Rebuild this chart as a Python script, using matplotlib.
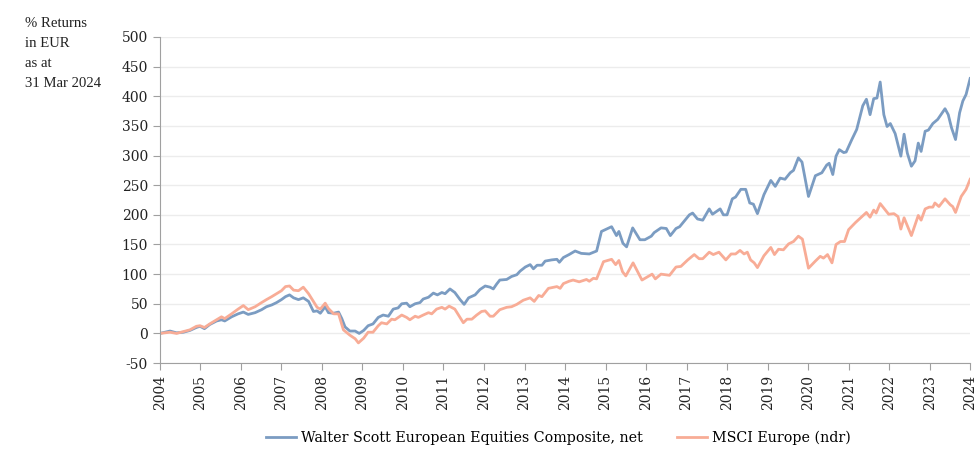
import matplotlib
matplotlib.use("Agg")
import matplotlib.pyplot as plt

plt.rcParams['font.family'] = ['DejaVu Serif']
plt.rcParams['axes.unicode_minus'] = False

# Walter Scott European Equities Composite, net
ws_years = [2004.0, 2004.25, 2004.41, 2004.58, 2004.74, 2004.9, 2004.99, 2005.1, 2005.23, 2005.4,
            2005.52, 2005.6, 2005.77, 2005.93, 2006.06, 2006.18, 2006.35, 2006.51, 2006.63, 2006.76,
            2006.88, 2007.0, 2007.1, 2007.2, 2007.3, 2007.42, 2007.54, 2007.67, 2007.79, 2007.88,
            2007.96, 2008.08, 2008.16, 2008.29, 2008.41, 2008.49, 2008.57, 2008.69, 2008.82, 2008.92,
            2009.03, 2009.14, 2009.26, 2009.39, 2009.51, 2009.64, 2009.76, 2009.88, 2009.97, 2010.09,
            2010.17, 2010.3, 2010.42, 2010.5, 2010.63, 2010.75, 2010.85, 2010.96, 2011.04, 2011.16,
            2011.28, 2011.41, 2011.51, 2011.62, 2011.78, 2011.9, 2012.03, 2012.15, 2012.23, 2012.31,
            2012.39, 2012.56, 2012.68, 2012.81, 2012.89, 2013.02, 2013.14, 2013.22, 2013.31, 2013.43,
            2013.51, 2013.67, 2013.8, 2013.86, 2013.96, 2014.1, 2014.25, 2014.4, 2014.6, 2014.78,
            2014.9, 2015.15, 2015.27, 2015.33, 2015.43, 2015.52, 2015.67, 2015.85, 2015.97, 2016.13,
            2016.2, 2016.37, 2016.5, 2016.6, 2016.74, 2016.83, 2017.07, 2017.15, 2017.27, 2017.4,
            2017.56, 2017.64, 2017.83, 2017.91, 2018.0, 2018.13, 2018.21, 2018.34, 2018.46, 2018.56,
            2018.65, 2018.75, 2018.91, 2019.08, 2019.19, 2019.31, 2019.43, 2019.56, 2019.64, 2019.76,
            2019.85, 2020.01, 2020.18, 2020.34, 2020.46, 2020.52, 2020.61, 2020.69, 2020.77, 2020.88,
            2020.94, 2021.08, 2021.2, 2021.35, 2021.44, 2021.53, 2021.62, 2021.7, 2021.78, 2021.87,
            2021.95, 2022.03, 2022.15, 2022.29, 2022.37, 2022.45, 2022.55, 2022.64, 2022.72, 2022.79,
            2022.89, 2022.97, 2023.08, 2023.2, 2023.38, 2023.46, 2023.54, 2023.64, 2023.74, 2023.82,
            2023.9, 2024.0]
ws_values = [0, 4, 1, 2, 5, 10, 12, 8, 15, 21,
             23, 21, 28, 33, 36, 32, 35, 40, 45, 48,
             52, 57, 62, 65, 60, 57, 60, 54, 37, 38,
             34, 45, 35, 34, 36, 25, 11, 4, 4, 0,
             5, 13, 16, 27, 31, 29, 41, 43, 50, 51,
             45, 50, 52, 58, 61, 68, 65, 69, 67, 75,
             69, 57, 49, 60, 65, 74, 80, 78, 75, 83,
             90, 91, 96, 99, 105, 112, 116, 109, 115, 115,
             122, 124, 125, 120, 128, 133, 139, 135, 134, 139,
             172, 180, 165, 172, 152, 146, 178, 158, 158, 164,
             170, 178, 177, 165, 177, 180, 200, 203, 193, 191,
             210, 201, 210, 200, 200, 227, 230, 243, 243, 220,
             218, 202, 234, 258, 248, 262, 260, 271, 275, 296,
             289, 231, 266, 271, 284, 287, 268, 299, 310, 305,
             306, 327, 344, 384, 395, 369, 396, 397, 424, 369,
             349, 354, 337, 299, 336, 304, 282, 291, 321, 307,
             341, 343, 354, 361, 379, 369, 347, 327, 372, 392,
             403, 430]

# MSCI Europe (ndr)
msci_years = [2004.0, 2004.25, 2004.41, 2004.58, 2004.74, 2004.9, 2004.99, 2005.1, 2005.23, 2005.4,
              2005.52, 2005.6, 2005.77, 2005.93, 2006.06, 2006.18, 2006.35, 2006.51, 2006.63, 2006.76,
              2006.88, 2007.0, 2007.1, 2007.2, 2007.3, 2007.42, 2007.54, 2007.67, 2007.79, 2007.88,
              2007.96, 2008.08, 2008.16, 2008.29, 2008.41, 2008.53, 2008.69, 2008.82, 2008.9, 2009.03,
              2009.14, 2009.26, 2009.39, 2009.47, 2009.6, 2009.72, 2009.8, 2009.97, 2010.09, 2010.17,
              2010.3, 2010.38, 2010.5, 2010.63, 2010.71, 2010.83, 2010.96, 2011.04, 2011.14, 2011.28,
              2011.39, 2011.49, 2011.58, 2011.7, 2011.82, 2011.94, 2012.03, 2012.15, 2012.23, 2012.39,
              2012.56, 2012.68, 2012.81, 2012.97, 2013.14, 2013.24, 2013.35, 2013.43, 2013.59, 2013.8,
              2013.88, 2013.96, 2014.1, 2014.2, 2014.35, 2014.53, 2014.6, 2014.7, 2014.78, 2014.95,
              2015.15, 2015.25, 2015.33, 2015.42, 2015.5, 2015.68, 2015.9, 2016.15, 2016.23, 2016.37,
              2016.58, 2016.74, 2016.86, 2017.03, 2017.19, 2017.31, 2017.4, 2017.56, 2017.66, 2017.8,
              2017.97, 2018.1, 2018.21, 2018.32, 2018.42, 2018.5, 2018.58, 2018.67, 2018.75, 2018.91,
              2019.08, 2019.17, 2019.27, 2019.39, 2019.52, 2019.64, 2019.76, 2019.86, 2020.01, 2020.18,
              2020.3, 2020.38, 2020.48, 2020.59, 2020.69, 2020.8, 2020.9, 2021.0, 2021.17, 2021.33,
              2021.44, 2021.53, 2021.62, 2021.68, 2021.78, 2021.99, 2022.12, 2022.22, 2022.29, 2022.37,
              2022.55, 2022.72, 2022.79, 2022.89, 2022.99, 2023.08, 2023.13, 2023.23, 2023.38, 2023.51,
              2023.57, 2023.64, 2023.78, 2023.9, 2024.0]
msci_values = [0, 2, 0, 3, 6, 12, 13, 10, 16, 23,
               28, 25, 33, 41, 47, 40, 45, 52, 57, 62,
               67, 72, 79, 80, 73, 72, 78, 67, 54, 44,
               41, 51, 42, 33, 33, 6, -3, -9, -16, -8,
               2, 2, 13, 18, 16, 24, 23, 31, 27, 23,
               29, 27, 31, 35, 33, 41, 44, 41, 46, 41,
               29, 18, 24, 24, 31, 37, 38, 29, 29, 40,
               44, 45, 49, 56, 60, 54, 64, 62, 76, 79,
               76, 84, 88, 90, 87, 91, 88, 93, 92, 121,
               125, 116, 123, 104, 97, 119, 90, 100, 92, 100,
               98, 112, 113, 124, 133, 126, 126, 137, 133, 137,
               124, 134, 134, 140, 134, 137, 124, 119, 111, 131,
               145, 133, 142, 141, 151, 155, 164, 159, 110, 122,
               130, 127, 133, 119, 150, 155, 155, 175, 187, 197,
               204, 196, 208, 203, 219, 201, 202, 197, 176, 195,
               165, 199, 191, 210, 213, 213, 220, 214, 227, 217,
               214, 204, 231, 243, 260]

year_ticks = list(range(2004, 2025))
y_ticks = list(range(-50, 501, 50))

fig = plt.figure(figsize=(9.75, 4.51), dpi=100)
ax = fig.add_axes([0.164, 0.195, 0.831, 0.723])

ax.plot(ws_years, ws_values, color='#7b9cc2', lw=2.0,
        label='Walter Scott European Equities Composite, net')
ax.plot(msci_years, msci_values, color='#f8ac96', lw=2.0,
        label='MSCI Europe (ndr)')

ax.set_xlim(2004, 2024)
ax.set_ylim(-50, 500)
ax.set_xticks(year_ticks)
ax.set_xticklabels([str(y) for y in year_ticks], rotation=90)
ax.set_yticks(y_ticks)

ax.grid(axis='y', color='#ececec', lw=1)
ax.set_axisbelow(True)
for s in ['top', 'right']:
    ax.spines[s].set_visible(False)
for s in ['left', 'bottom']:
    ax.spines[s].set_color('#a0a0a0')
ax.tick_params(colors='#a0a0a0', labelcolor='#222222', labelsize=10, length=5)

# label in the top-left corner (narrower serif)
fig.text(0.026, 0.962, '% Returns\nin EUR\nas at\n31 Mar 2024', va='top', ha='left',
         fontsize=10.6, color='#222222', linespacing=1.7, family=['Liberation Serif'])

fig.legend(loc='lower center', bbox_to_anchor=(0.573, -0.015), ncol=2, frameon=False,
           fontsize=10.3, handlelength=2.1, handletextpad=0.35, columnspacing=2.4)

fig.savefig('out.png', dpi=100)
